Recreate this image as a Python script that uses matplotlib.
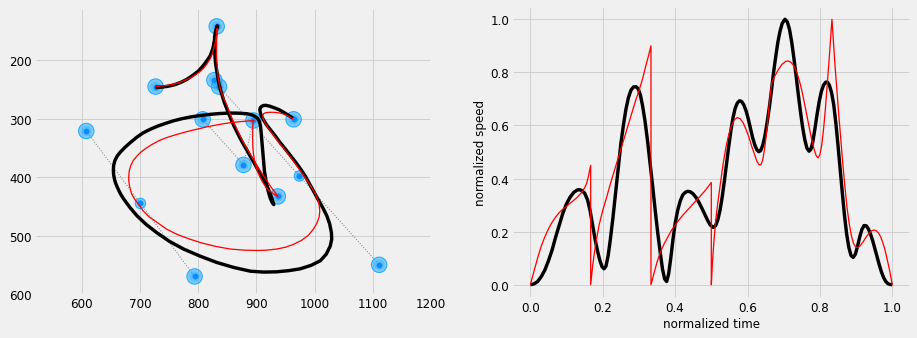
import matplotlib.pyplot as plt

plt.style.use("fivethirtyeight")

# control points of the stroke (big = loose target, small = tight target)
pt_x = [608, 701, 794, 727, 832, 828, 836, 808, 878, 895, 937, 964, 974, 1111]
pt_y = [321, 445, 570, 245, 142, 234, 245, 301, 379, 303, 433, 301, 398, 550]
pt_size = [330, 150, 330, 330, 330, 330, 330, 330, 330, 330, 330, 330, 150, 330]

# tangent handles: in-handle, anchor, out-handle
handle_x = [[608, 701, 794], [808, 878, 895], [836, 974, 1111]]
handle_y = [[321, 445, 570], [301, 379, 303], [245, 398, 550]]

# smooth trajectory
traj_x = [727, 737, 748, 759, 770, 781, 792, 801, 809, 815, 821, 825, 828, 830,
          831.5, 833,
          830, 828.5, 828, 828, 829, 830, 832, 834, 836, 839, 842, 845, 849,
          853, 857, 862, 867, 872, 878, 884, 890, 896, 902, 909, 915, 921, 926,
          930,
          927, 924, 921, 918, 916, 914, 913, 912, 911, 910, 909, 908, 907, 905,
          902, 897, 891, 884, 870, 855, 838, 821, 804, 787, 772, 758, 744, 731,
          718, 706, 695, 684, 675, 667, 661, 657, 655, 654.5, 655, 656.5, 659,
          663, 667, 672, 683, 695, 711, 729, 751, 775, 803, 832, 861, 890, 913,
          935, 956, 975, 994, 1010, 1020, 1027, 1029.5, 1029, 1026, 1021, 1014,
          1006, 995, 984, 976, 968, 959, 950, 941, 933, 925, 918, 913, 909, 907,
          906, 907, 909, 912, 916, 923, 930, 939, 947, 955, 963]
traj_y = [246, 246, 244.5, 242, 238, 232.5, 225, 218, 209, 201, 192, 181, 169,
          159, 150, 141,
          150, 160, 170, 180, 193, 205, 218, 230, 241, 252, 262, 272, 282, 292,
          302, 313, 323, 333, 344, 354, 365, 375, 386, 398, 409, 421, 434, 447,
          443, 436, 426, 414, 402, 390, 378, 366, 354, 342, 330, 320, 311, 304,
          299, 295.5, 293, 291.5, 290.5, 290.3, 291, 292.5, 294.5, 297, 300,
          303.5, 308, 312.5, 318, 324, 331.5, 340.5, 348.5, 356.5, 364, 372,
          380, 388, 396, 404, 412, 421, 429, 437, 452, 466, 481, 495, 510, 523,
          535, 546, 554.5, 561, 562.5, 562, 560, 557, 551, 543, 532, 518, 506,
          495, 480, 466, 452, 438, 418, 398, 386, 375, 363.5, 352, 341, 330,
          320, 311, 303, 296, 290, 285, 281, 279, 277.5, 277, 278.5, 281, 284.5,
          289, 294, 299]

# piecewise reference curve
ref_x = [727, 737, 748, 758, 768, 778, 787, 795, 803, 810, 816, 821, 824.5,
         827.5, 830, 831.5, 833,
         832.5, 832, 831.8, 831.8, 832, 833, 834, 836, 839, 844, 850, 855, 861,
         869, 878, 888, 898, 908, 918, 926, 933, 937,
         933, 926, 920, 915, 909, 904, 900, 897, 895, 894, 893.7, 893.8, 894,
         894.5, 896,
         884, 872, 858, 844, 830, 815, 800, 787, 772, 758, 744, 732, 720, 710,
         702, 695, 689, 685, 682, 681, 681, 682, 684, 686,
         692, 699, 706, 716, 729, 746, 764, 784, 804, 830, 855, 880, 904, 918,
         935, 950, 964, 978, 990, 998, 1004, 1008, 1009, 1008, 1006, 1001, 994,
         985, 975, 964, 953, 941, 930, 921, 915, 912, 911, 913, 917, 923, 930,
         939, 947, 955, 963]
ref_y = [245, 244, 243, 241, 238, 234, 230, 225, 219.5, 213, 205, 197, 188,
         178, 167, 156, 145,
         152, 163, 175, 187, 198, 212, 226, 239, 252, 265, 278, 292, 306, 323,
         341, 358, 375, 391, 406, 418, 427, 433,
         431, 426, 421, 415, 405, 395, 384, 372, 359, 346, 334, 323, 313, 306,
         303,
         304, 305, 306.5, 308.5, 311, 314, 317.5, 320.5, 324.5, 328.5, 333,
         338, 344.5, 351, 357, 364, 371, 379, 388, 398, 406, 414, 422, 429,
         439, 448, 458, 468, 477, 489, 498, 505.5, 512, 518.5, 523, 525, 525.5,
         525, 523, 520, 515, 508, 499, 489, 479, 468, 458, 448, 440, 428, 416,
         402, 388, 373, 358, 343, 329, 317, 307, 300, 295, 291, 289.5, 289, 289,
         290, 292, 295.5, 300]

# speed profiles
speed_t = [0.0, 0.01, 0.02, 0.03, 0.04, 0.05, 0.06, 0.07, 0.08, 0.09, 0.10,
           0.11, 0.12, 0.13, 0.136, 0.142, 0.15, 0.158, 0.165, 0.172, 0.179,
           0.186, 0.192, 0.198, 0.2035, 0.209, 0.215, 0.221, 0.228, 0.235,
           0.242, 0.25, 0.257, 0.264, 0.271, 0.278, 0.285, 0.292, 0.298, 0.304,
           0.31, 0.317, 0.324, 0.331, 0.338, 0.345, 0.352, 0.359, 0.365, 0.371,
           0.3766, 0.382, 0.388, 0.394, 0.40, 0.407, 0.414, 0.421, 0.428, 0.435,
           0.442, 0.45, 0.458, 0.466, 0.474, 0.482, 0.49, 0.497, 0.5055, 0.512,
           0.518, 0.524, 0.53, 0.536, 0.542, 0.548, 0.554, 0.56, 0.566, 0.572,
           0.578, 0.584, 0.59, 0.596, 0.602, 0.608, 0.614, 0.62, 0.626, 0.631,
           0.636, 0.642, 0.648, 0.654, 0.66, 0.666, 0.672, 0.678, 0.684, 0.69,
           0.696, 0.7035, 0.71, 0.716, 0.722, 0.728, 0.734, 0.74, 0.746, 0.752,
           0.758, 0.764, 0.77, 0.775, 0.78, 0.786, 0.792, 0.798, 0.804, 0.81,
           0.816, 0.821, 0.826, 0.832, 0.838, 0.844, 0.85, 0.856, 0.862, 0.868,
           0.874, 0.88, 0.886, 0.892, 0.898, 0.904, 0.91, 0.916, 0.922, 0.928,
           0.934, 0.94, 0.946, 0.952, 0.958, 0.964, 0.97, 0.976, 0.982, 0.988,
           0.994, 1.0]
speed_v = [0.0, 0.003, 0.012, 0.03, 0.055, 0.09, 0.13, 0.18, 0.225, 0.27,
           0.305, 0.33, 0.348, 0.357, 0.358, 0.355, 0.345, 0.32, 0.28, 0.225,
           0.17, 0.125, 0.092, 0.068, 0.06, 0.07, 0.11, 0.17, 0.25, 0.34,
           0.43, 0.53, 0.6, 0.66, 0.705, 0.733, 0.745, 0.746, 0.738, 0.715,
           0.675, 0.615, 0.54, 0.455, 0.37, 0.28, 0.195, 0.12, 0.06, 0.022,
           0.012, 0.04, 0.1, 0.17, 0.23, 0.28, 0.315, 0.338, 0.348, 0.352,
           0.35, 0.342, 0.328, 0.31, 0.288, 0.265, 0.242, 0.225, 0.216, 0.223,
           0.245, 0.28, 0.33, 0.39, 0.455, 0.52, 0.58, 0.63, 0.665, 0.685,
           0.693, 0.69, 0.677, 0.655, 0.625, 0.59, 0.555, 0.527, 0.508, 0.501,
           0.505, 0.525, 0.56, 0.61, 0.665, 0.73, 0.8, 0.86, 0.915, 0.956,
           0.985, 1.0, 0.99, 0.962, 0.915, 0.855, 0.79, 0.72, 0.655, 0.595,
           0.548, 0.515, 0.503, 0.51, 0.535, 0.585, 0.64, 0.69, 0.728, 0.752,
           0.763, 0.763, 0.752, 0.725, 0.68, 0.61, 0.525, 0.435, 0.345, 0.26,
           0.19, 0.14, 0.11, 0.103, 0.115, 0.145, 0.18, 0.208, 0.223, 0.222,
           0.21, 0.19, 0.165, 0.135, 0.105, 0.075, 0.048, 0.027, 0.012, 0.004,
           0.001, 0.0]

ref_t = [0.0, 0.005, 0.01, 0.015, 0.02, 0.03, 0.04, 0.05, 0.06, 0.07, 0.08,
         0.09, 0.10, 0.11, 0.12, 0.13, 0.14, 0.15, 0.155, 0.16, 0.1667,
         0.1667, 0.172, 0.18, 0.19, 0.2, 0.211, 0.22, 0.23, 0.24, 0.25, 0.26,
         0.27, 0.28, 0.29, 0.30, 0.31, 0.32, 0.327, 0.3333,
         0.3333, 0.34, 0.35, 0.36, 0.37, 0.38, 0.39, 0.40, 0.41, 0.42, 0.43,
         0.44, 0.45, 0.46, 0.47, 0.48, 0.49, 0.5,
         0.5, 0.503, 0.507, 0.512, 0.518, 0.524, 0.532, 0.54, 0.548, 0.556,
         0.564, 0.572, 0.58, 0.588, 0.596, 0.604, 0.612, 0.62, 0.626, 0.632,
         0.637, 0.642, 0.648, 0.654, 0.66, 0.6667,
         0.675, 0.685, 0.695, 0.705, 0.712, 0.72, 0.728, 0.736, 0.744, 0.752,
         0.76, 0.768, 0.776, 0.784, 0.79, 0.795, 0.8, 0.805, 0.81, 0.815, 0.82,
         0.825, 0.829, 0.8333,
         0.837, 0.841, 0.846, 0.851, 0.857, 0.863, 0.869, 0.875, 0.881, 0.887,
         0.893, 0.899, 0.905, 0.912, 0.92, 0.928, 0.936, 0.944, 0.95, 0.956,
         0.962, 0.968, 0.974, 0.98, 0.986, 0.992, 0.996, 1.0]
ref_v = [0.0, 0.025, 0.05, 0.075, 0.1, 0.145, 0.18, 0.21, 0.235, 0.255, 0.272,
         0.285, 0.296, 0.307, 0.318, 0.33, 0.345, 0.365, 0.38, 0.405, 0.45,
         0.0, 0.07, 0.15, 0.225, 0.28, 0.33, 0.375, 0.42, 0.465, 0.51, 0.555,
         0.6, 0.645, 0.69, 0.73, 0.775, 0.83, 0.865, 0.90,
         0.0, 0.035, 0.085, 0.125, 0.155, 0.18, 0.205, 0.225, 0.243, 0.26,
         0.275, 0.29, 0.305, 0.32, 0.335, 0.35, 0.367, 0.385,
         0.0, 0.08, 0.16, 0.24, 0.31, 0.37, 0.45, 0.515, 0.565, 0.6, 0.622,
         0.63, 0.625, 0.61, 0.585, 0.555, 0.52, 0.488, 0.465, 0.452, 0.452,
         0.47, 0.52, 0.59, 0.68, 0.76,
         0.785, 0.81, 0.83, 0.841, 0.843, 0.838, 0.825, 0.8, 0.765, 0.72,
         0.665, 0.61, 0.555, 0.51, 0.485, 0.478, 0.49, 0.525, 0.585, 0.66,
         0.75, 0.84, 0.92, 1.0,
         0.92, 0.84, 0.75, 0.66, 0.56, 0.46, 0.37, 0.29, 0.23, 0.185, 0.155,
         0.142, 0.14, 0.148, 0.163, 0.18, 0.195, 0.204, 0.206, 0.203, 0.195,
         0.18, 0.158, 0.13, 0.095, 0.058, 0.03, 0.0]

fig = plt.figure(figsize=(15, 5.545), dpi=917 / 15)
ax1 = fig.add_axes([0.0382, 0.1298, 0.4318, 0.8428])
ax2 = fig.add_axes([0.5586, 0.118, 0.4342, 0.8614])

# left: trajectory
for hx, hy in zip(handle_x, handle_y):
    ax1.plot(hx, hy, ":", color="gray", lw=1.2, zorder=2)
ax1.scatter(pt_x, pt_y, s=pt_size, facecolor=(0.12, 0.67, 1.0, 0.55),
            edgecolor="#22aaff", linewidth=1.2, zorder=3)
ax1.scatter(pt_x, pt_y, s=[v * 0.45 for v in pt_size],
            facecolor=(0.12, 0.67, 1.0, 0.35), edgecolor="none", zorder=3)
ax1.scatter(pt_x, pt_y, s=40, color="#0a8cff", zorder=3)
ax1.plot(traj_x, traj_y, color="black", lw=4, solid_joinstyle="round", zorder=4)
ax1.plot(ref_x, ref_y, color="red", lw=1.5, zorder=5)

ax1.set_xlim(520, 1200)
ax1.set_ylim(600, 111)
ax1.set_xticks(range(600, 1201, 100))
ax1.set_yticks(range(200, 601, 100))

# right: speed profiles
ax2.plot(speed_t, speed_v, color="black", lw=4, solid_joinstyle="round")
ax2.plot(ref_t, ref_v, color="red", lw=1.5)
ax2.set_xlim(-0.05, 1.05)
ax2.set_ylim(-0.05, 1.05)
ax2.set_xlabel("normalized time", fontsize=14)
ax2.set_ylabel("normalized speed", fontsize=14)

fig.savefig("out.png", dpi=917 / 15, facecolor=fig.get_facecolor())
